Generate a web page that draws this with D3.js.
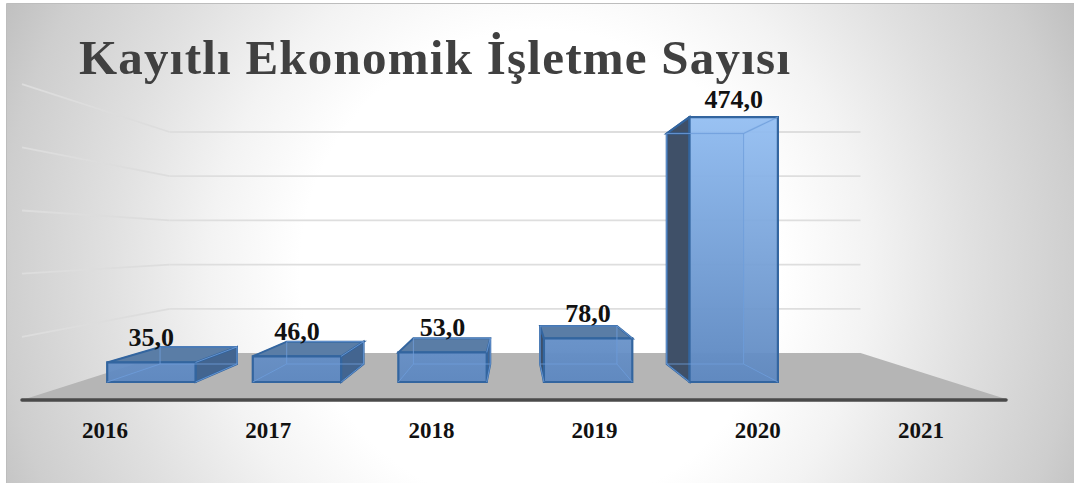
<!DOCTYPE html>
<html lang="tr">
<head>
<meta charset="utf-8">
<title>Kayıtlı Ekonomik İşletme Sayısı</title>
<script src="https://cdn.jsdelivr.net/npm/d3@7"></script>
<style>
  html, body { margin: 0; padding: 0; background: #fff; }
  svg { display: block; }
  text { font-family: "Liberation Serif", serif; font-weight: 700; }
</style>
</head>
<body>
<svg id="chart" width="1074" height="483"></svg>
<script>
const categories = ["2016", "2017", "2018", "2019", "2020", "2021"];
const values = [35, 46, 53, 78, 474, null];
const valueLabels = ["35,0", "46,0", "53,0", "78,0", "474,0", ""];
const gridValues = [0, 100, 200, 300, 400, 500];
const chartTitle = "Kayıtlı Ekonomik İşletme Sayısı";

const svg = d3.select("#chart");
const W = 1074, H = 483;

// Perspective setup: depth 1 is the front edge of the floor, smaller is farther away.
const vanishX = 514, vanishY = 243.5, floorFrontY = 400;
const depthFloorBack = 0.7, depthBarFront = 0.885, depthBarBack = 0.77;

const x = d3.scaleBand().domain(categories).range([22, 1009])
  .paddingInner(0.393).paddingOuter(0.1965);
const height = d3.scaleLinear().domain([0, 500]).range([0, 315.8]);

// Projects a world position (horizontal px, value, depth) to the screen.
const project = (wx, v, k) => [
  vanishX + (wx - vanishX) * k,
  vanishY + (floorFrontY - height(v) - vanishY) * k
];
const poly = pts => "M" + pts.map(p => p.join(",")).join("L") + "Z";

const defs = svg.append("defs");

const bg = defs.append("radialGradient").attr("id", "panelFill")
  .attr("gradientUnits", "userSpaceOnUse")
  .attr("cx", 540).attr("cy", 270).attr("r", 600);
[[0, "#ffffff"], [0.4, "#ffffff"], [0.55, "#f3f3f3"], [0.72, "#e0e0e0"], [0.9, "#cecece"], [1, "#bfbfbf"]]
  .forEach(([o, c]) => bg.append("stop").attr("offset", o).attr("stop-color", c));

const frontFill = defs.append("linearGradient").attr("id", "frontFill")
  .attr("gradientUnits", "userSpaceOnUse").attr("x1", 0).attr("x2", 0)
  .attr("y1", 117).attr("y2", 382);
[[0, "#93bef2"], [1, "#5e88c0"]]
  .forEach(([o, c]) => frontFill.append("stop").attr("offset", o).attr("stop-color", c));

// Panel
svg.append("rect").attr("width", W).attr("height", H).attr("fill", "#fff");
svg.append("rect").attr("x", 6).attr("y", 4).attr("width", W - 6).attr("height", H - 4)
  .attr("fill", "url(#panelFill)");
svg.append("path").attr("d", `M6.5,${H}V3.5H${W}`).attr("fill", "none")
  .attr("stroke", "#bdbdbd").attr("stroke-width", 1);

// Floor
const [xMin, xMax] = x.range();
svg.append("path").attr("fill", "#b5b5b5")
  .attr("d", poly([project(xMin, 0, 1), project(xMin, 0, depthFloorBack),
                   project(xMax, 0, depthFloorBack), project(xMax, 0, 1)]));

// Value gridlines along the left and back walls
const grid = svg.append("g").attr("fill", "none").attr("stroke-width", 1.8);
grid.selectAll("path.wall").data(gridValues.slice(1)).join("path")
  .attr("class", "wall")
  .attr("stroke", "#dddddd")
  .attr("d", v => d3.line()([project(xMin, v, 1), project(xMin, v, depthFloorBack)]));
grid.selectAll("path.back").data(gridValues.slice(1)).join("path")
  .attr("class", "back")
  .attr("stroke", "#dedede")
  .attr("d", v => d3.line()([project(xMin, v, depthFloorBack), project(xMax, v, depthFloorBack)]));

// Category axis line
svg.append("path").attr("stroke", "#4a4a4a").attr("stroke-width", 3.5)
  .attr("stroke-linecap", "round").attr("fill", "none")
  .attr("d", d3.line()([project(xMin, 0, 1), [xMax - 3, project(xMax, 0, 1)[1]]]));

// Bars, painted back to front
const bars = svg.append("g").selectAll("g")
  .data(categories.map((c, i) => ({ c, v: values[i] })).filter(d => d.v !== null))
  .join("g");

const edge = "#33659f", inner = "#6f9edb";

bars.each(function (d) {
  const g = d3.select(this);
  const l = x(d.c), r = l + x.bandwidth();
  const P = {
    flb: project(l, 0, depthBarFront), frb: project(r, 0, depthBarFront),
    flt: project(l, d.v, depthBarFront), frt: project(r, d.v, depthBarFront),
    blb: project(l, 0, depthBarBack), brb: project(r, 0, depthBarBack),
    blt: project(l, d.v, depthBarBack), brt: project(r, d.v, depthBarBack)
  };
  const leftShown = P.blb[0] < P.flb[0];
  const rightShown = P.brb[0] > P.frb[0];

  // back and floor faces sit behind everything else
  g.append("path").attr("d", poly([P.blb, P.blt, P.brt, P.brb]))
    .attr("fill", "#5e88c0").attr("fill-opacity", 0.55);
  g.append("path").attr("d", poly([P.flb, P.blb, P.brb, P.frb]))
    .attr("fill", "#5e88c0").attr("fill-opacity", 0.45);

  // side walls: solid when they face the viewer
  g.append("path").attr("d", poly([P.flb, P.flt, P.blt, P.blb]))
    .attr("fill", leftShown ? "#3f5068" : "none")
    .attr("stroke", leftShown ? edge : inner).attr("stroke-width", leftShown ? 2 : 1);
  g.append("path").attr("d", poly([P.frb, P.frt, P.brt, P.brb]))
    .attr("fill", rightShown ? "#436590" : "none")
    .attr("stroke", rightShown ? edge : inner).attr("stroke-width", rightShown ? 2 : 1);

  g.append("path").attr("d", poly([P.flt, P.blt, P.brt, P.frt]))
    .attr("fill", "#5a7da6").attr("fill-opacity", d.v > 400 ? 0 : 1)
    .attr("stroke", edge).attr("stroke-width", 2);

  g.append("path").attr("d", poly([P.flb, P.flt, P.frt, P.frb]))
    .attr("fill", "url(#frontFill)").attr("fill-opacity", 0.94)
    .attr("stroke", edge).attr("stroke-width", 2.2);

  // inner edges of the far corner, seen through the front face
  const seen = [[P.blb, P.brb], [P.blt, P.brt], [P.brb, P.brt], [P.blb, P.blt],
                [P.frb, P.brb], [P.frt, P.brt], [P.flb, P.blb]];
  g.append("path").attr("fill", "none").attr("stroke", inner).attr("stroke-width", 1)
    .attr("stroke-opacity", 0.8)
    .attr("d", seen.map(s => d3.line()(s)).join(""));
});

// Value labels above each bar; the tallest one stays clear of the title
svg.append("g").selectAll("text")
  .data(categories.map((c, i) => ({ c, v: values[i], t: valueLabels[i] })).filter(d => d.v !== null))
  .join("text")
  .attr("text-anchor", "middle").attr("font-size", 26).attr("fill", "#111")
  .attr("x", d => project(x(d.c) + x.bandwidth() / 2, d.v, depthBarFront)[0])
  .attr("y", d => Math.max(project(x(d.c), d.v, depthBarFront)[1] - 16, 108))
  .text(d => d.t);

// Category labels
svg.append("g").selectAll("text").data(categories).join("text")
  .attr("text-anchor", "middle").attr("font-size", 23).attr("fill", "#111")
  .attr("x", d => project(x(d) + x.bandwidth() / 2, 0, 0.992)[0] - 2.5)
  .attr("y", 438)
  .text(d => d);

// Title
svg.append("text").attr("x", 79).attr("y", 74).attr("font-size", 49)
  .attr("fill", "#404040").attr("textLength", 711).attr("lengthAdjust", "spacing")
  .text(chartTitle);
</script>
</body>
</html>
